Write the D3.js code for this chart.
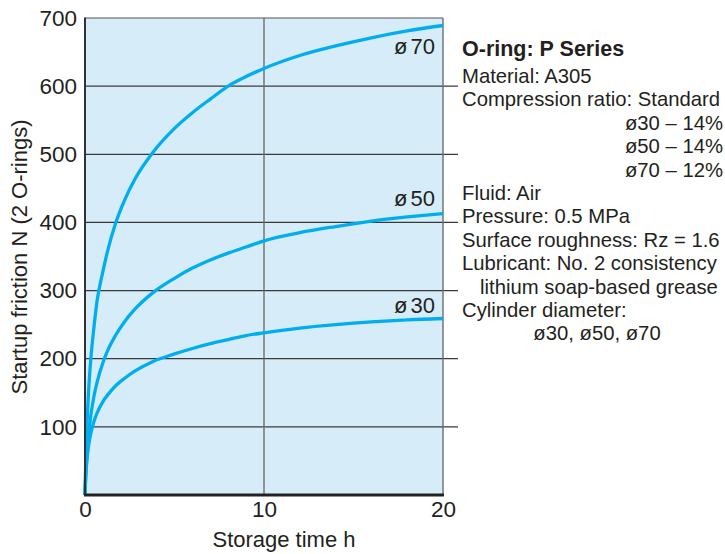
<!DOCTYPE html>
<html><head><meta charset="utf-8">
<script src="https://cdn.jsdelivr.net/npm/d3@7"></script>
<style>
body{margin:0;background:#fff;}
svg text{font-family:"Liberation Sans",Arial,Helvetica,sans-serif;fill:#231f20;}
</style></head>
<body><svg id="c" width="725" height="554"></svg>
<script>
// Data
const times = [0, 0.02, 0.05, 0.1, 0.2, 0.32, 0.5, 0.67, 1, 1.3, 1.7, 2.2, 2.8, 3.8, 5, 6, 7, 8, 9, 10, 12, 14, 16, 18, 20];
const phi70 = [0, 25, 56, 96, 152, 198, 246, 284, 328, 362, 398, 432, 464, 503, 538, 561, 581, 600, 614, 626, 645, 659, 671, 681, 689];
const phi50 = [0, 15, 33, 56, 89, 116, 145, 165, 194, 214, 234, 254, 273, 297, 318, 333, 345, 355, 364, 373, 385, 394, 402, 408, 413];
const phi30 = [0, 15, 31, 49, 72, 90, 108, 120, 137, 148, 160, 171, 182, 196, 207, 215, 222, 228, 234, 238, 245, 250, 254, 257, 259];
const seriesNames = ["70", "50", "30"];
const yTicks = [100, 200, 300, 400, 500, 600, 700];
const xTicks = [0, 10, 20];
const infoLines = [
  {t:"Material: A305", a:"start"},
  {t:"Compression ratio: Standard", a:"start"},
  {t:"ø30 – 14%", a:"end"},
  {t:"ø50 – 14%", a:"end"},
  {t:"ø70 – 12%", a:"end"},
  {t:"Fluid: Air", a:"start"},
  {t:"Pressure: 0.5 MPa", a:"start"},
  {t:"Surface roughness: Rz = 1.6", a:"start"},
  {t:"Lubricant: No. 2 consistency", a:"start"},
  {t:"lithium soap-based grease", a:"indent"},
  {t:"Cylinder diameter:", a:"start"},
  {t:"ø30, ø50, ø70", a:"middle"}
];

const svg = d3.select("#c");
const x = d3.scaleLinear().domain([0, 20]).range([85, 443]);
const y = d3.scaleLinear().domain([0, 700]).range([495, 18]);

// background
svg.append("rect").attr("x", x(0)).attr("y", y(700)).attr("width", x(20) - x(0)).attr("height", y(0) - y(700)).attr("fill", "#d6edf9");

// horizontal gridlines (extend past plot)
svg.append("g").selectAll("line").data(yTicks.filter(d => d < 700)).join("line")
  .attr("x1", x(0)).attr("x2", 458).attr("y1", d => y(d)).attr("y2", d => y(d))
  .attr("stroke", "#3a3a3a").attr("stroke-width", 1.2);
svg.append("line").attr("x1", x(0)).attr("x2", x(20)).attr("y1", y(700)).attr("y2", y(700))
  .attr("stroke", "#555").attr("stroke-width", 1.2);
// vertical gridlines
svg.append("g").selectAll("line").data([10, 20]).join("line")
  .attr("x1", d => x(d)).attr("x2", d => x(d)).attr("y1", y(700)).attr("y2", y(0))
  .attr("stroke", "#6d6d6d").attr("stroke-width", 1.4);

// curves
const line = d3.line().x((d, i) => x(times[i])).y(d => y(d)).curve(d3.curveMonotoneX);
[phi70, phi50, phi30].forEach(s => {
  svg.append("path").attr("d", line(s)).attr("fill", "none")
    .attr("stroke", "#00aeef").attr("stroke-width", 3.3).attr("stroke-linecap", "butt");
});

// axes lines
svg.append("line").attr("x1", x(0)).attr("x2", x(0)).attr("y1", y(700) - 0.5).attr("y2", y(0))
  .attr("stroke", "#333").attr("stroke-width", 2);
svg.append("line").attr("x1", x(0) - 1).attr("x2", x(20) + 1).attr("y1", y(0)).attr("y2", y(0))
  .attr("stroke", "#222").attr("stroke-width", 3);

// y axis labels
const yAxis = svg.append("g").attr("transform", `translate(${x(0)},0)`)
  .call(d3.axisLeft(y).tickValues(yTicks).tickSize(0).tickPadding(8).tickFormat(d3.format("d")));
yAxis.select(".domain").remove();
yAxis.selectAll("text").attr("font-size", "22.5px").attr("font-family", "Liberation Sans, Arial, sans-serif").attr("fill", "#231f20");

// x axis labels
const xAxis = svg.append("g").attr("transform", `translate(0,${y(0)})`)
  .call(d3.axisBottom(x).tickValues(xTicks).tickSize(0).tickPadding(6).tickFormat(d3.format("d")));
xAxis.select(".domain").remove();
xAxis.selectAll("text").attr("font-size", "22.5px").attr("font-family", "Liberation Sans, Arial, sans-serif").attr("fill", "#231f20");

// axis titles
svg.append("text").attr("x", 284).attr("y", 547).attr("text-anchor", "middle")
  .attr("font-size", "22px").text("Storage time h");
svg.append("text").attr("transform", "translate(26.5,257) rotate(-90)").attr("text-anchor", "middle")
  .attr("font-size", "22px").text("Startup friction N (2 O-rings)");

// curve labels
const labelY = [54, 206, 312.5];
seriesNames.forEach((n, i) => {
  const t = svg.append("text").attr("x", 435).attr("y", labelY[i]).attr("text-anchor", "end").attr("font-size", "22px");
  t.append("tspan").text("ø");
  t.append("tspan").attr("dx", 3).text(n);
});

// info panel
svg.append("text").attr("x", 462).attr("y", 56).attr("font-size", "21.5px").attr("font-weight", "bold").text("O-ring: P Series");
infoLines.forEach((l, i) => {
  const yy = 83 + i * 23.4;
  let xx = 462, anchor = "start";
  if (l.a === "end") { xx = 723; anchor = "end"; }
  else if (l.a === "middle") { xx = 597; anchor = "middle"; }
  else if (l.a === "indent") { xx = 480; }
  svg.append("text").attr("x", xx).attr("y", yy).attr("text-anchor", anchor).attr("font-size", "20.3px").text(l.t);
});
</script></body></html>
